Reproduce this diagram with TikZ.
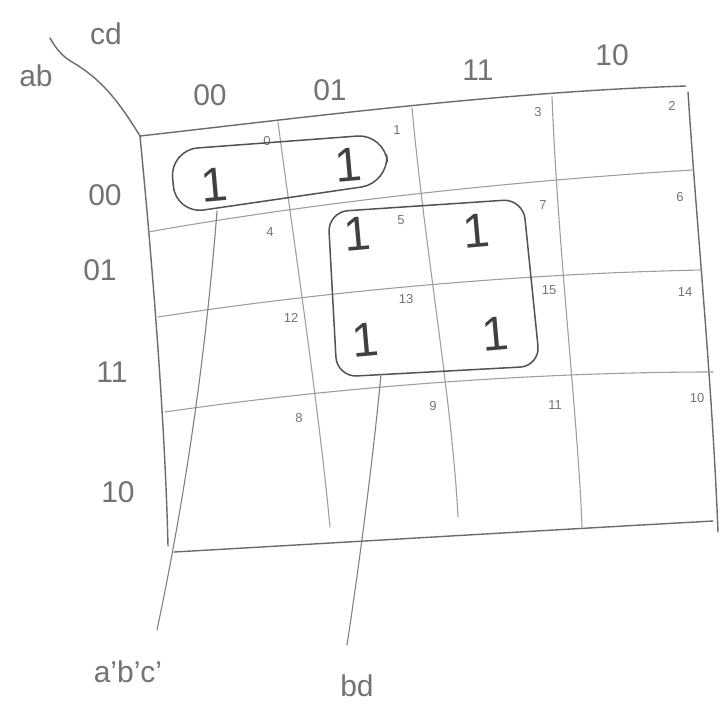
\documentclass[tikz,border=0pt]{standalone}
\usepackage{fontspec}
\setmainfont{Liberation Sans}
\begin{document}
\begin{tikzpicture}[x=1pt,y=-1pt,
 pencil/.style={draw=black!58, line width=1.4pt, line cap=round, line join=round},
 faint/.style={draw=black!38, line width=1.1pt, line cap=round},
 grploop/.style={draw=black!68, line width=1.5pt, line join=round},
 big/.style={text=black!55, font=\fontsize{30}{30}\selectfont, inner sep=0pt},
 idx/.style={text=black!55, font=\fontsize{13}{13}\selectfont, inner sep=0pt},
 onemark/.style={text=black!75, font=\fontsize{48}{48}\selectfont, inner sep=0pt, rotate=5}]
\useasboundingbox (0,0) rectangle (720,710);
% outer frame
\draw[pencil] (140,136) .. controls (300,118) and (500,92) .. (686,86);
\draw[pencil] (688,92) .. controls (697,230) and (712,380) .. (718,532);
\draw[pencil] (140,136) .. controls (152,260) and (165,420) .. (168,546);
\draw[pencil] (174,552) .. controls (350,542) and (550,530) .. (713,521);
% corner diagonal
\draw[pencil] (140,136) .. controls (118,100) and (100,78) .. (72,62) .. controls (60,55) and (54,45) .. (50,38);
% inner horizontal lines
\draw[faint] (148,232) .. controls (260,212) and (450,185) .. (692,170);
\draw[faint] (158,317) .. controls (300,295) and (500,274) .. (702,270);
\draw[faint] (165,412) .. controls (350,385) and (550,372) .. (713,372);
% inner vertical lines
\draw[faint] (278,122) .. controls (292,230) and (318,400) .. (330,527);
\draw[faint] (412,108) .. controls (425,250) and (452,400) .. (458,517);
\draw[faint] (552,97) .. controls (558,250) and (578,420) .. (582,527);
% labels
\node[big] (ab) at (36,76) {ab};
\node[big] (cd) at (106,34) {cd};
\node[big] (c00) at (210,95) {00};
\node[big] (c01) at (330,90) {01};
\node[big] (c11) at (478,70) {11};
\node[big] (c10) at (612,55) {10};
\node[big] (r00) at (105,195) {00};
\node[big] (r01) at (100,270) {01};
\node[big] (r11) at (112,372) {11};
\node[big] (r10) at (118,492) {10};
% cell indices
\node[idx] (m0) at (267,141) {0};
\node[idx] (m1) at (397,130) {1};
\node[idx] (m3) at (538,112) {3};
\node[idx] (m2) at (672,106) {2};
\node[idx] (m4) at (270,232) {4};
\node[idx] (m5) at (401,220) {5};
\node[idx] (m7) at (543,205) {7};
\node[idx] (m6) at (680,197) {6};
\node[idx] (m12) at (291,318) {12};
\node[idx] (m13) at (406,299) {13};
\node[idx] (m15) at (549,290) {15};
\node[idx] (m14) at (685,292) {14};
\node[idx] (m8) at (299,418) {8};
\node[idx] (m9) at (433,406) {9};
\node[idx] (m11) at (555,405) {11};
\node[idx] (m10) at (697,398) {10};
% ones
\node[onemark] (o0) at (214,185) {1};
\node[onemark] (o1) at (348,165) {1};
\node[onemark] (o5) at (357,234) {1};
\node[onemark] (o7) at (476,231) {1};
\node[onemark] (o13) at (365,340) {1};
\node[onemark] (o15) at (495,334) {1};
% groups
\draw[grploop, rounded corners=28pt] (170,150) -- (385,134) -- (389,183) -- (176,214) -- cycle;
\draw[grploop, rounded corners=20pt] (328,212) -- (523,199) -- (540,366) -- (337,377) -- cycle;
% connectors
\coordinate (g1) at (217,211);
\coordinate (g1e) at (157,630);
\coordinate (g2) at (381,374);
\coordinate (g2e) at (347,645);
\node[big] (lab1) at (128,672) {a'b'c'};
\node[big] (lab2) at (357,686) {bd};
\draw[faint, draw=black!50] (g1) .. controls (210,300) and (195,450) .. (g1e);
\draw[faint, draw=black!50] (g2) .. controls (374,450) and (360,560) .. (g2e);
\end{tikzpicture}
\end{document}
